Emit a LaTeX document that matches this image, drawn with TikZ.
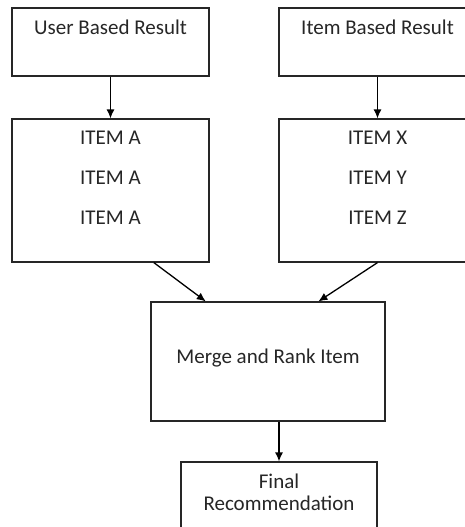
\documentclass[tikz,border=0pt]{standalone}
\usepackage{fontspec}
\setmainfont{Carlito}
\usetikzlibrary{calc,arrows.meta}

\tikzset{
  box/.style={draw=black!85, rectangle, line width=1.2pt, minimum width=197pt, minimum height=68pt, inner sep=0pt},
  txt/.style={align=center, inner sep=0pt, font=\fontsize{21}{22}\selectfont, text=black!85},
}

\begin{document}
\begin{tikzpicture}[x=1pt,y=-1pt]
\clip (0,0) rectangle (465,527);

\node[box] (ubr) at (110.5,42) {};
\node[box] (ibr) at (377.5,42) {};
\node[box, minimum height=143pt] (ua) at (110.5,190.5) {};
\node[box, minimum height=143pt] (ix) at (377.5,190.5) {};
\node[box, minimum width=234pt, minimum height=119pt] (merge) at (268,361.5) {};
\node[box, minimum width=196pt, minimum height=90pt] (final) at (279,507) {};

\node[txt] (ubrtxt) at (110.5,27) {User Based Result};
\node[txt] (ibrtxt) at (377.5,27) {Item Based Result};
\node[txt] (uatxt) at (110.5,178) {ITEM A\\[18pt]ITEM A\\[18pt]ITEM A};
\node[txt] (ixtxt) at (377.5,178) {ITEM X\\[18pt]ITEM Y\\[18pt]ITEM Z};
\node[txt] (mergetxt) at (268,358) {Merge and Rank Item};
\node[txt] (finaltxt) at (279,492) {Final\\Recommendation};

\path[draw,line width=1.3pt,->,>={Latex[length=9pt,width=8pt]}] (ubr) -- (ua);
\path[draw,line width=1.3pt,->,>={Latex[length=9pt,width=8pt]}] (ibr) -- (ix);
\path[draw,line width=1.3pt,->,>={Latex[length=9pt,width=8pt]}] (ua.-59) -- (merge.136);
\path[draw,line width=1.3pt,->,>={Latex[length=9pt,width=8pt]}] (ix.south) -- (merge.50);
\path[draw,line width=1.3pt,->,>={Latex[length=9pt,width=8pt]}] (merge.south -| final.north) -- (final.north);
\end{tikzpicture}
\end{document}
